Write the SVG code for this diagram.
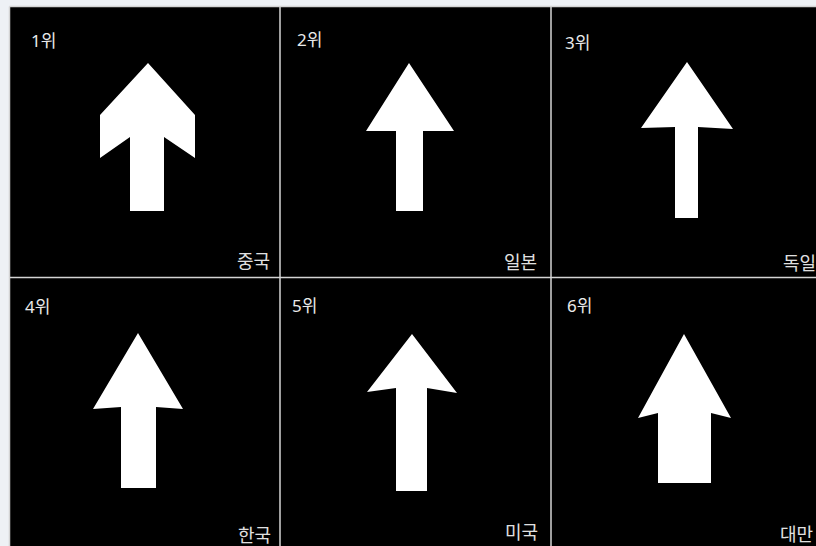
<svg xmlns="http://www.w3.org/2000/svg" width="816" height="546" viewBox="0 0 816 546">
<style>
.bg{fill:#000}
.arrow{fill:#fff}
.grid{stroke:#d4d4d4;stroke-width:1.5;fill:none}
.rank{font-family:"Noto Sans","Noto Sans CJK KR",sans-serif;font-size:17px;fill:#eaeaea}
.nation{font-family:"Noto Sans CJK KR",sans-serif;font-size:18px;fill:#e0e0e0}
</style>
<rect x="0" y="0" width="816" height="546" fill="#eef1f5"/>
<rect class="bg" x="10" y="7" width="806" height="539"/>
<g class="grid">
<line x1="9.5" y1="6.5" x2="816" y2="6.5"/>
<line x1="9.5" y1="6.5" x2="9.5" y2="546"/>
<line x1="280" y1="7" x2="280" y2="546"/>
<line x1="551" y1="7" x2="551" y2="546"/>
<line x1="10" y1="277.5" x2="816" y2="277.5"/>
</g>
<g id="panel1">
<polygon class="arrow" points="148,63 195,115 195,158 164,137 164,211 130,211 130,137 100,158 100,115"/>
<text class="rank" x="31" y="47">1위</text>
<text class="nation" x="237" y="268">중국</text>
</g>
<g id="panel2">
<polygon class="arrow" points="409,63 454,131 423,131 423,211 396,211 396,131 366,131"/>
<text class="rank" x="297" y="46">2위</text>
<text class="nation" x="504" y="269">일본</text>
</g>
<g id="panel3">
<polygon class="arrow" points="687,62 733,129 698,127 698,218 675,218 675,127 641,128"/>
<text class="rank" x="565" y="49">3위</text>
<text class="nation" x="783" y="270">독일</text>
</g>
<g id="panel4">
<polygon class="arrow" points="138,333 183,409 156,407 156,488 121,488 121,407 93,409"/>
<text class="rank" x="25" y="313">4위</text>
<text class="nation" x="238" y="542">한국</text>
</g>
<g id="panel5">
<polygon class="arrow" points="412,334 457,393 427,388 427,491 396,491 396,388 367,392"/>
<text class="rank" x="292" y="312">5위</text>
<text class="nation" x="505" y="539">미국</text>
</g>
<g id="panel6">
<polygon class="arrow" points="684,334 731,418 711,413 711,483 658,483 658,413 638,418"/>
<text class="rank" x="567" y="312">6위</text>
<text class="nation" x="780" y="541">대만</text>
</g>
</svg>
